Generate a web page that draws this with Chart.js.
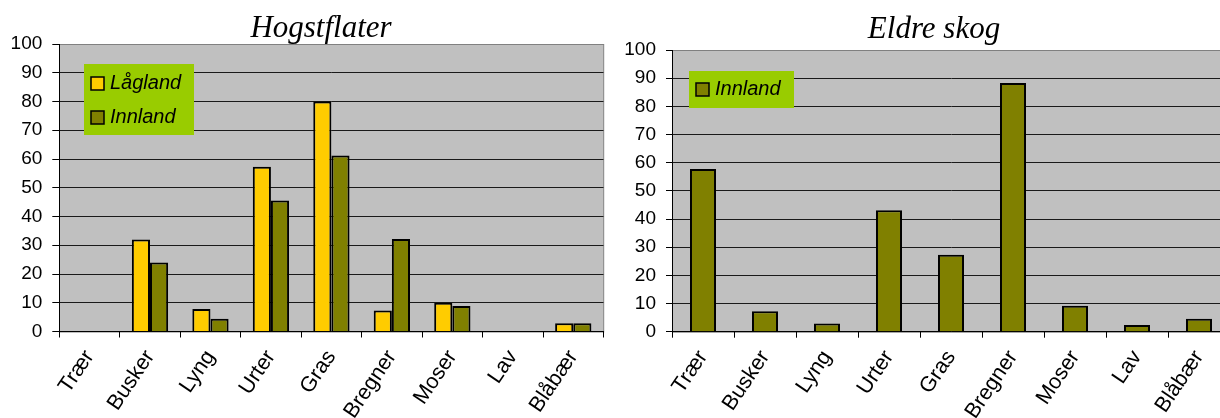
<!DOCTYPE html>
<html>
<head>
<meta charset="utf-8">
<script src="https://cdn.jsdelivr.net/npm/chart.js@4/dist/chart.umd.min.js"></script>
<style>
  html, body { margin: 0; padding: 0; width: 1220px; height: 418px; overflow: hidden; background: #fff; }
  .pane { position: absolute; top: 0; height: 418px; }
  #paneL { left: 0; width: 610px; }
  #paneR { left: 610px; width: 630px; }
</style>
</head>
<body>
<div class="pane" id="paneL"><canvas id="hogst" width="610" height="418"></canvas></div>
<div class="pane" id="paneR"><canvas id="eldre" width="630" height="418"></canvas></div>
<script>
// Vegetation groups on the category axis
const categories = ['Trær', 'Busker', 'Lyng', 'Urter', 'Gras', 'Bregner', 'Moser', 'Lav', 'Blåbær'];

// Hogstflater (clear-cuts), percent
const hogstLagland = [null, 32, 7.8, 57.3, 80, 7.3, 10, null, 2.9];
const hogstInnland = [null, 24, 4.4, 45.6, 61.2, 32.2, 8.9, null, 2.9];

// Eldre skog (older forest), percent
const eldreInnland = [57.8, 7.3, 2.9, 43.1, 27.3, 88.3, 9.2, 2.4, 4.6];

const yMin = 0, yMax = 100, yStep = 10;

const SANS = "'Liberation Sans', Arial, sans-serif";
const SERIF = "'Liberation Serif', 'Times New Roman', serif";
const YELLOW = '#FFCC00';
const OLIVE = '#808000';

// Grey plot area with a thin darker frame
const plotBackground = {
  id: 'plotBackground',
  beforeDraw(chart) {
    const { ctx, chartArea: a } = chart;
    ctx.save();
    ctx.fillStyle = '#C0C0C0';
    ctx.fillRect(a.left, a.top, a.right - a.left, a.bottom - a.top);
    ctx.strokeStyle = '#808080';
    ctx.lineWidth = 1;
    ctx.strokeRect(Math.round(a.left) + 0.5, Math.round(a.top) + 0.5, a.right - a.left, a.bottom - a.top);
    ctx.restore();
  }
};

// Italic serif heading above each plot
const heading = {
  id: 'heading',
  afterDraw(chart, args, opts) {
    const { ctx } = chart;
    ctx.save();
    ctx.font = 'italic 31px ' + SERIF;
    ctx.fillStyle = '#000';
    ctx.textAlign = 'center';
    ctx.textBaseline = 'alphabetic';
    ctx.fillText(opts.text, opts.x, opts.y);
    ctx.restore();
  }
};

// Legend in a green box placed inside the plot
const boxLegend = {
  id: 'boxLegend',
  afterDatasetsDraw(chart, args, opts) {
    const { ctx } = chart;
    ctx.save();
    ctx.fillStyle = '#99CC00';
    ctx.fillRect(opts.x, opts.y, opts.w, opts.h);
    ctx.font = 'italic 20px ' + SANS;
    ctx.textBaseline = 'alphabetic';
    chart.data.datasets.forEach((ds, i) => {
      const sy = opts.firstY + i * opts.rowGap;
      ctx.fillStyle = ds.backgroundColor;
      ctx.fillRect(opts.x + opts.swatchX, sy, 13, 13);
      ctx.strokeStyle = '#000';
      ctx.lineWidth = 1.5;
      ctx.strokeRect(opts.x + opts.swatchX, sy, 13, 13);
      ctx.fillStyle = '#000';
      ctx.fillText(ds.label, opts.x + opts.swatchX + 19, sy + 12);
    });
    ctx.restore();
  }
};

function scales(yWidth, xHeight, yTickLen) {
  return {
    x: {
      offset: true,
      grid: {
        offset: true,
        drawOnChartArea: false,
        drawTicks: true,
        tickLength: 6,
        color: '#000',
        lineWidth: 1
      },
      border: { display: true, color: '#000', width: 1 },
      ticks: {
        autoSkip: false,
        minRotation: 56,
        maxRotation: 56,
        padding: 8,
        color: '#000',
        font: { family: SANS, size: 21.5 }
      },
      afterFit(s) { s.height = xHeight; }
    },
    y: {
      min: yMin,
      max: yMax,
      ticks: {
        stepSize: yStep,
        padding: 10,
        color: '#000',
        font: { family: SANS, size: 19 }
      },
      grid: {
        color: c => (c.tick && c.tick.value === yMax) ? '#808080' : '#1a1a1a',
        tickColor: '#000',
        tickLength: yTickLen,
        lineWidth: 1
      },
      border: { display: true, color: '#000', width: 1 },
      afterFit(s) { s.width = yWidth; }
    }
  };
}

const barStyle = { borderColor: '#000', borderWidth: 2 };

new Chart(document.getElementById('hogst'), {
  type: 'bar',
  data: {
    labels: categories,
    datasets: [
      { label: 'Lågland', data: hogstLagland, backgroundColor: YELLOW, ...barStyle },
      { label: 'Innland', data: hogstInnland, backgroundColor: OLIVE, ...barStyle }
    ]
  },
  options: {
    responsive: false,
    animation: false,
    devicePixelRatio: 1,
    datasets: { bar: { categoryPercentage: 0.6, barPercentage: 1 } },
    layout: { padding: { top: 44, right: 6.5, left: 0, bottom: 0 } },
    scales: scales(59.3, 86.5, 7),
    plugins: {
      legend: { display: false },
      tooltip: { enabled: false },
      heading: { text: 'Hogstflater', x: 321, y: 37 },
      boxLegend: { x: 84, y: 64, w: 110, h: 71, swatchX: 7, firstY: 77, rowGap: 34 }
    }
  },
  plugins: [plotBackground, heading, boxLegend]
});

new Chart(document.getElementById('eldre'), {
  type: 'bar',
  data: {
    labels: categories,
    datasets: [
      { label: 'Innland', data: eldreInnland, backgroundColor: OLIVE, ...barStyle }
    ]
  },
  options: {
    responsive: false,
    animation: false,
    devicePixelRatio: 1,
    datasets: { bar: { categoryPercentage: 0.42, barPercentage: 1 } },
    layout: { padding: { top: 50, right: 10, left: 0, bottom: 0 } },
    scales: scales(62, 86.3, 6),
    plugins: {
      legend: { display: false },
      tooltip: { enabled: false },
      heading: { text: 'Eldre skog', x: 324, y: 38 },
      boxLegend: { x: 79, y: 71, w: 105, h: 37, swatchX: 7, firstY: 83, rowGap: 34 }
    }
  },
  plugins: [plotBackground, heading, boxLegend]
});
</script>
</body>
</html>
